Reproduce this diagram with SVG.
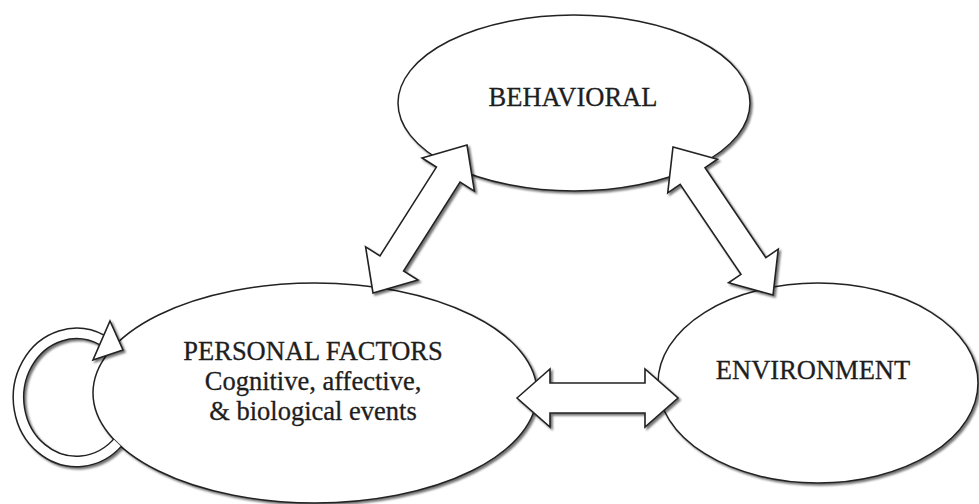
<svg xmlns="http://www.w3.org/2000/svg" width="979" height="504" viewBox="0 0 979 504">
<defs>
<filter id="sh" x="-10%" y="-10%" width="120%" height="120%">
<feDropShadow dx="2" dy="2" stdDeviation="1.2" flood-color="#000" flood-opacity="0.55"/>
</filter>
<clipPath id="outP">
<path clip-rule="evenodd" d="M0 0H979V504H0Z M93 393A222 110 0 1 0 537 393A222 110 0 1 0 93 393Z"/>
</clipPath>
</defs>
<style>
.node{fill:#fff;stroke:#222;stroke-width:1.5;}
.arr{fill:#fff;stroke:#222;stroke-width:1.6;stroke-linejoin:miter;}
.lbl{font-family:"Liberation Serif","Times New Roman",serif;font-size:26.5px;fill:#1e1e1e;stroke:#1e1e1e;stroke-width:0.3;text-anchor:middle;}
</style>
<rect width="979" height="504" fill="#fff"/>
<g id="node-behavioral">
<ellipse class="node" cx="574" cy="103" rx="176" ry="88" filter="url(#sh)"/>
<text class="lbl" x="573" y="106">BEHAVIORAL</text>
</g>
<g id="node-personal">
<ellipse class="node" cx="315" cy="393" rx="222" ry="110" filter="url(#sh)"/>
<text class="lbl" x="313" y="360">PERSONAL FACTORS</text>
<text class="lbl" x="313" y="390">Cognitive, affective,</text>
<text class="lbl" x="313" y="420">&amp; biological events</text>
</g>
<g id="node-environment">
<ellipse class="node" cx="818" cy="383" rx="160" ry="100" filter="url(#sh)"/>
<text class="lbl" x="813" y="379">ENVIRONMENT</text>
</g>
<g id="connectors">
<g id="loop-personal" filter="url(#sh)">
<g clip-path="url(#outP)">
<path d="M119 441A58 64 0 1 1 102 340" fill="none" stroke="#222" stroke-width="12"/>
<path d="M119 441A58 64 0 1 1 102 340" fill="none" stroke="#fff" stroke-width="9"/>
</g>
<polygon class="arr" points="110,321 123,350 93,360"/>
</g>
<g id="behavioral-personal" filter="url(#sh)">
<path class="arr" d="M0 0L35 -31L35 -14L140.3 -14L140.3 -31L175.3 0L140.3 31L140.3 14L35 14L35 31Z" transform="translate(373 293) rotate(-57.57)"/>
</g>
<g id="behavioral-environment" filter="url(#sh)">
<path class="arr" d="M0 0L35 -30L35 -15L143.6 -15L143.6 -30L178.6 0L143.6 30L143.6 15L35 15L35 30Z" transform="translate(673 147) rotate(55.95)"/>
</g>
<g id="personal-environment" filter="url(#sh)">
<path class="arr" d="M0 0L33 -29L33 -15L128 -15L128 -29L161 0L128 29L128 15L33 15L33 29Z" transform="translate(517 398)"/>
</g>
</g>
</svg>
